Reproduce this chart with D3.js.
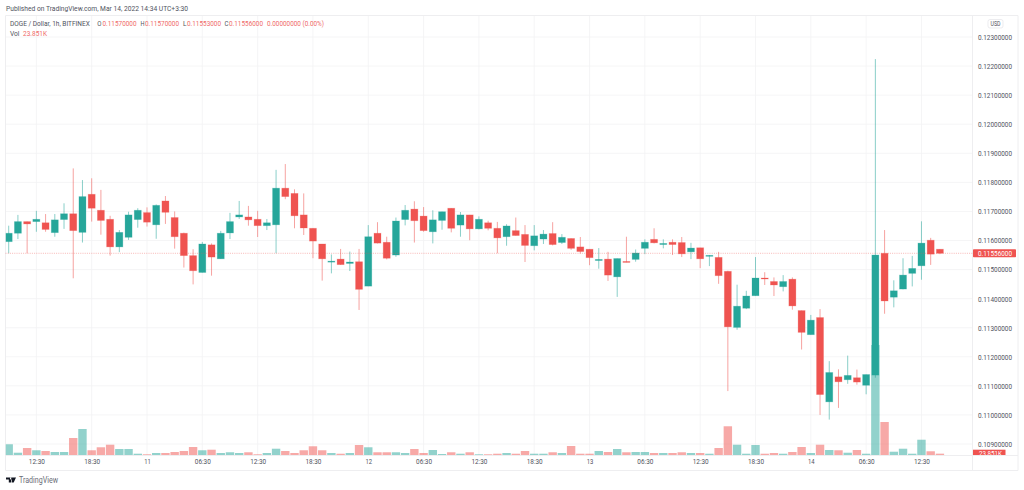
<!DOCTYPE html>
<html><head><meta charset="utf-8">
<script src="https://cdn.jsdelivr.net/npm/d3@7"></script>
<style>html,body{margin:0;padding:0;background:#fff}svg{display:block}text{font-family:Roboto,sans-serif}</style>
</head><body><svg id="c" width="1024" height="490"></svg>
<script>
const opens=[.11596,.11625,.11665,.11665,.11661,.11627,.11672,.11692,.11628,.11759,.11704,.11673,.11578,.11611,.11672,.11696,.11654,.11736,.11679,.11625,.11548,.11490,.11585,.11537,.11626,.11681,.11681,.11673,.11651,.11654,.11780,.11762,.11688,.11642,.11588,.11526,.11536,.11521,.11527,.11443,.11625,.11594,.11550,.11672,.11708,.11684,.11630,.11669,.11711,.11653,.11688,.11640,.11661,.11642,.11613,.11634,.11621,.11582,.11605,.11624,.11593,.11607,.11578,.11570,.11531,.11536,.11475,.11528,.11535,.11573,.11604,.11586,.11594,.11593,.11561,.11575,.11546,.11542,.11494,.11301,.11367,.11410,.11471,.11459,.11441,.11467,.11359,.11276,.11335,.11045,.11131,.11121,.11128,.11102,.11137,.11556,.11405,.11433,.11487,.11513,.11601,.11570];
const highs=[.11651,.11688,.11665,.11702,.11691,.11691,.11728,.11848,.11808,.11814,.11774,.11685,.11636,.11699,.11711,.11714,.11724,.11753,.11700,.11627,.11570,.11595,.11590,.11633,.11695,.11736,.11719,.11702,.11674,.11843,.11863,.11776,.11762,.11642,.11588,.11552,.11571,.11562,.11571,.11653,.11663,.11613,.11679,.11722,.11735,.11715,.11704,.11699,.11711,.11698,.11688,.11683,.11668,.11664,.11656,.11679,.11653,.11653,.11636,.11663,.11622,.11607,.11612,.11570,.11574,.11561,.11538,.11613,.11569,.11604,.11642,.11604,.11604,.11612,.11592,.11575,.11550,.11561,.11496,.11448,.11427,.11543,.11491,.11473,.11481,.11473,.11359,.11344,.11364,.11185,.11157,.11204,.11156,.11139,.12224,.11636,.11463,.11539,.11547,.11666,.11609,.11570];
const lows=[.11556,.11605,.11556,.11630,.11630,.11613,.11640,.11470,.11593,.11665,.11620,.11548,.11560,.11602,.11644,.11648,.11606,.11657,.11572,.11507,.11449,.11490,.11479,.11537,.11605,.11674,.11651,.11612,.11636,.11556,.11742,.11642,.11619,.11539,.11462,.11487,.11516,.11495,.11361,.11443,.11590,.11535,.11544,.11652,.11593,.11630,.11590,.11637,.11628,.11613,.11601,.11638,.11635,.11556,.11582,.11617,.11526,.11566,.11588,.11583,.11588,.11568,.11555,.11515,.11503,.11461,.11406,.11525,.11527,.11553,.11590,.11573,.11550,.11543,.11536,.11505,.11512,.11451,.11082,.11293,.11364,.11410,.11447,.11409,.11425,.11362,.11225,.11276,.11000,.10984,.11024,.11107,.11104,.11071,.11128,.11348,.11370,.11432,.11442,.11465,.11516,.11553];
const closes=[.11625,.11665,.11657,.11673,.11638,.11671,.11692,.11634,.11751,.11711,.11669,.11578,.11628,.11688,.11704,.11663,.11721,.11697,.11613,.11548,.11496,.11588,.11543,.11625,.11665,.11688,.11671,.11651,.11661,.11780,.11751,.11685,.11643,.11598,.11537,.11529,.11517,.11526,.11432,.11613,.11591,.11539,.11667,.11704,.11668,.11634,.11671,.11699,.11642,.11688,.11640,.11673,.11642,.11609,.11650,.11617,.11583,.11616,.11622,.11586,.11611,.11573,.11562,.11541,.11535,.11481,.11538,.11525,.11557,.11594,.11592,.11590,.11586,.11554,.11574,.11537,.11549,.11479,.11303,.11374,.11409,.11471,.11468,.11447,.11459,.11375,.11284,.11326,.11070,.11146,.11114,.11136,.11113,.11139,.11550,.11392,.11427,.11481,.11504,.11591,.11553,.11556];
const volumes=[193,41,126,85,72,54,54,306,468,85,139,185,108,108,23,13,36,36,54,72,144,85,95,36,49,36,49,13,36,113,72,36,85,157,85,36,23,36,180,139,49,49,49,36,108,36,90,18,49,23,49,13,13,23,36,23,72,23,23,49,36,162,23,23,72,54,108,49,54,54,36,36,36,49,36,36,23,126,517,185,23,180,23,36,23,54,144,36,185,90,85,41,90,23,1980,594,59,113,23,275,67,23.851];
const timeTickIndex=[3,9,15,21,27,33,39,45,51,57,63,69,75,81,87,93,99];
const timeTickLabels=["12:30","18:30","11","06:30","12:30","18:30","12","06:30","12:30","18:30","13","06:30","12:30","18:30","14","06:30","12:30"];
const priceTicks=[.109,.110,.111,.112,.113,.114,.115,.116,.117,.118,.119,.120,.121,.122,.123];
const lastPrice=.11556;

const UP="#26a69a",DOWN="#ef5350",GRID="#f3f3f4",BORDER="#eeeef0",TXT="#50535e";
const L=5.5,R=972.5,T=15.5,B=455.5,AR=1018,AB=470.5;
const svg=d3.select("#c");
const x=d3.scaleLinear().domain([0,101]).range([8.7,939.9]);
const y=d3.scaleLinear().domain([.109,.123]).range([444,37]);
const v=d3.scaleLinear().domain([0,1980]).range([455,345]);
const idx=d3.range(opens.length);
const col=i=>closes[i]>=opens[i]?UP:DOWN;

const defs=svg.append("defs");
defs.append("clipPath").attr("id","plot").append("rect").attr("x",L+.3).attr("y",T).attr("width",R-L).attr("height",B-T);
defs.append("clipPath").attr("id","volTag").append("rect").attr("x",R).attr("y",449.7).attr("width",33).attr("height",5.3);

// grid
svg.append("g").selectAll("line").data(priceTicks).join("line")
 .attr("x1",L).attr("x2",R).attr("y1",d=>y(d)).attr("y2",d=>y(d)).attr("stroke",GRID).attr("stroke-width",.8);
svg.append("g").selectAll("line").data(timeTickIndex).join("line")
 .attr("x1",d=>x(d)).attr("x2",d=>x(d)).attr("y1",T).attr("y2",B).attr("stroke",GRID).attr("stroke-width",.8);

// frame
svg.append("path").attr("d",`M${L},${AB}V${T}H${AR}V${AB}H${L}M${L},${B}H${AR}M${R},${T}V${AB}`)
 .attr("fill","none").attr("stroke",BORDER).attr("stroke-width",1);

const plot=svg.append("g").attr("clip-path","url(#plot)");
// volume
plot.append("g").selectAll("rect").data(idx).join("rect")
 .attr("x",i=>x(i)-4.2).attr("width",8.4)
 .attr("y",i=>v(volumes[i])).attr("height",i=>v(0)-v(volumes[i]))
 .attr("fill",i=>col(i)).attr("fill-opacity",.5);

// wicks
plot.append("g").selectAll("line").data(idx).join("line")
 .attr("x1",i=>x(i)).attr("x2",i=>x(i)).attr("y1",i=>y(highs[i])).attr("y2",i=>y(lows[i]))
 .attr("stroke",col).attr("stroke-width",.9).attr("stroke-opacity",.6);
// bodies
plot.append("g").selectAll("rect").data(idx).join("rect")
 .attr("x",i=>x(i)-3.5).attr("width",7)
 .attr("y",i=>y(Math.max(opens[i],closes[i])))
 .attr("height",i=>Math.max(1,Math.abs(y(opens[i])-y(closes[i]))))
 .attr("fill",col).attr("stroke",col).attr("stroke-opacity",.3).attr("stroke-width",.8);

// last price line
svg.append("line").attr("x1",L).attr("x2",R).attr("y1",y(lastPrice)).attr("y2",y(lastPrice))
 .attr("stroke",DOWN).attr("stroke-opacity",.6).attr("stroke-width",.7).attr("stroke-dasharray","1 1.2");

// price axis
const ay=svg.append("g").attr("transform",`translate(${R},0)`)
 .call(d3.axisRight(y).tickValues(priceTicks).tickSize(0).tickPadding(5.5).tickFormat(d=>d.toFixed(8)));
ay.select(".domain").remove();
ay.selectAll("text").attr("fill",TXT).attr("font-size",7.4).style("font-family","Roboto,sans-serif")
 .attr("textLength",34).attr("lengthAdjust","spacingAndGlyphs");

// time axis
const ax=svg.append("g").attr("transform",`translate(0,${B})`)
 .call(d3.axisBottom(x).tickValues(timeTickIndex).tickSize(0).tickPadding(3.5).tickFormat((d,i)=>timeTickLabels[i]));
ax.select(".domain").remove();
ax.selectAll("text").attr("fill",TXT).attr("font-size",7.4).style("font-family","Roboto,sans-serif")
 .attr("textLength",(d,i)=>timeTickLabels[i].length>2?16:6.6).attr("lengthAdjust","spacingAndGlyphs");

// header / free text helper
const t=(s,xp,yp,c,fs,len,parent)=>{
 const e=(parent||svg).append("text").attr("x",xp).attr("y",yp).attr("fill",c).attr("font-size",fs||7.4).text(s);
 if(len)e.attr("textLength",len).attr("lengthAdjust","spacingAndGlyphs");
 return e;};

// labels on price axis
svg.append("rect").attr("x",R+.5).attr("y",y(lastPrice)-4).attr("width",43).attr("height",8).attr("rx",.8).attr("fill",DOWN);
t(lastPrice.toFixed(8),978,y(lastPrice)+2.7,"#fff",7.4,34);
svg.append("rect").attr("x",R+.5).attr("y",449.7).attr("width",32.5).attr("height",5.3).attr("fill",DOWN);
t("23.851K",979,456,"#fff",7.4,23).attr("clip-path","url(#volTag)");

// USD button
svg.append("rect").attr("x",988).attr("y",19.5).attr("width",15).attr("height",8.5).attr("rx",2).attr("fill","#fff").attr("stroke","#e4e4e8").attr("stroke-width",.7);
t("USD",990.5,26.3,TXT,6.6,10);

t("Published on TradingView.com, Mar 14, 2022 14:34 UTC+3:30",6,11,TXT,7.4,182);
t("DOGE / Dollar, 1h, BITFINEX",0,0,TXT,7.4).attr("transform","translate(10,26) scale(.88,1)");
const PINK="#ef6a68";
t("O",97.2,26,TXT,7.4,4.2);t("0.11570000",102.5,26,PINK,7.4,34);
t("H",140.6,26,TXT,7.4,4);t("0.11570000",145,26,PINK,7.4,34);
t("L",183,26,TXT,7.4,3.5);t("0.11553000",187,26,PINK,7.4,34);
t("C",224.6,26,TXT,7.4,4);t("0.11556000",229,26,PINK,7.4,34);
t("0.00000000 (0.00%)",267,26,PINK,7.4,57);
t("Vol",10,35.5,TXT,7.4,9.5);t("23.851K",23,35.5,PINK,7.4,24);

// logo
svg.append("path").attr("fill","#131722").attr("d","M6,477.5h5v5h-2.2v-3h-2.8zM11.8,477.5h4.2l-2.3,5h-2.1zM11,477.5a1,1 0 1,0 .01,0z");
t("TradingView",19,483,"#6a6d78",8.2,39);
</script></body></html>
